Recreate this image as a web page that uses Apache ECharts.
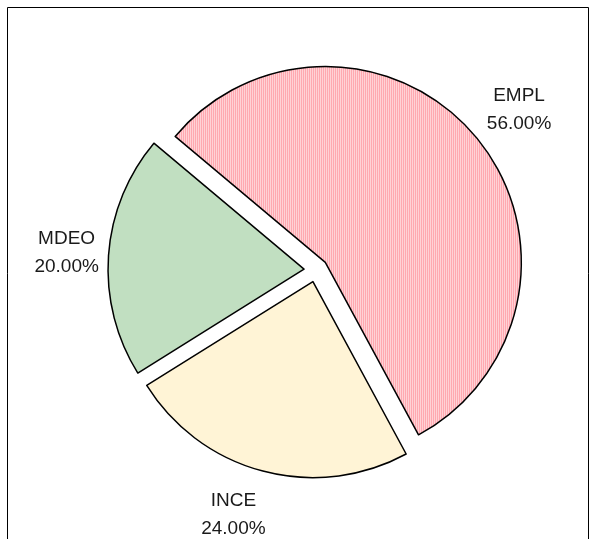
<!DOCTYPE html>
<html>
<head>
<meta charset="utf-8">
<script src="https://cdn.jsdelivr.net/npm/echarts@6/dist/echarts.min.js"></script>
<style>
html,body{margin:0;padding:0;background:#fff;}
#chart{width:595px;height:539px;}
</style>
</head>
<body>
<div id="chart"></div>
<script>
const categories = ['EMPL', 'INCE', 'MDEO'];
const values = [56, 24, 20];
const fills = ['pattern', '#fff4d6', '#c1dfc1'];

const pat = document.createElement('canvas');
pat.width = 2; pat.height = 2;
const pctx = pat.getContext('2d');
pctx.fillStyle = '#fff6f7'; pctx.fillRect(0, 0, 2, 2);
pctx.fillStyle = '#ff8590'; pctx.fillRect(0, 0, 1, 2);

function fillFor(i) {
  return fills[i] === 'pattern' ? { image: pat, repeat: 'repeat' } : fills[i];
}

const labelPads = [[0, 0, 0, 14], [0, 36, 0, 0], [0, 0, 0, 6]];

const total = values.reduce((a, b) => a + b, 0);
const chart = echarts.init(document.getElementById('chart'), null, { renderer: 'canvas' });
chart.setOption({
  animation: false,
  backgroundColor: '#ffffff',
  graphic: [{
    type: 'rect', silent: true, z: 100,
    shape: { x: 7.5, y: 7.5, width: 581, height: 600 },
    style: { fill: 'none', stroke: '#000', lineWidth: 1 }
  }],
  series: [
    {
      type: 'pie',
      center: [316, 270],
      radius: [0, 196],
      startAngle: 140,
      clockwise: true,
      selectedMode: 'multiple',
      selectedOffset: 12,
      emphasis: { disabled: true },
      label: { show: false },
      labelLine: { show: false },
      itemStyle: { borderColor: '#000', borderWidth: 1.5 },
      data: categories.map((c, i) => ({
        name: c, value: values[i], selected: true,
        itemStyle: { color: fillFor(i) }
      }))
    },
    {
      type: 'pie',
      center: [316, 270],
      radius: [236, 264],
      startAngle: 140,
      clockwise: true,
      silent: true,
      emphasis: { disabled: true },
      itemStyle: { color: 'rgba(0,0,0,0)', borderWidth: 0 },
      label: {
        show: true,
        position: 'inside',
        color: '#1a1a1a',
        fontFamily: 'Liberation Sans, Arial, sans-serif',
        fontSize: 19,
        lineHeight: 28,
        align: 'center',
        formatter: p => p.name + '\n' + (p.value / total * 100).toFixed(2) + '%'
      },
      labelLine: { show: false },
      data: categories.map((c, i) => ({
        name: c, value: values[i],
        label: { padding: labelPads[i] }
      }))
    }
  ]
});
</script>
</body>
</html>
